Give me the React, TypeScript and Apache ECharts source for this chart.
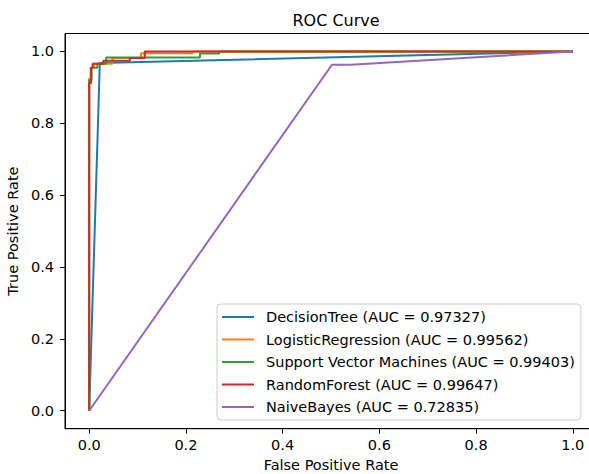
import React, { useEffect, useRef } from "react";
import * as echarts from "echarts";

const tickValues = [0, 0.2, 0.4, 0.6, 0.8, 1.0];

const seriesNames = [
  "DecisionTree (AUC = 0.97327)",
  "LogisticRegression (AUC = 0.99562)",
  "Support Vector Machines (AUC = 0.99403)",
  "RandomForest (AUC = 0.99647)",
  "NaiveBayes (AUC = 0.72835)",
];

const colors = ["#1f77b4", "#ff7f0e", "#2ca02c", "#d62728", "#9467bd"];

const decisionTree: number[][] = [
  [0, 0],
  [0.022, 0.968],
  [1, 1],
];

const logisticRegression: number[][] = [
  [0, 0],
  [0, 0.925],
  [0.003, 0.925],
  [0.003, 0.955],
  [0.01, 0.955],
  [0.01, 0.966],
  [0.048, 0.966],
  [0.048, 0.982],
  [0.107, 0.982],
  [0.107, 0.995],
  [0.214, 0.995],
  [0.214, 1],
  [1, 1],
];

const svm: number[][] = [
  [0, 0],
  [0, 0.92],
  [0.005, 0.92],
  [0.005, 0.955],
  [0.017, 0.955],
  [0.017, 0.966],
  [0.035, 0.966],
  [0.035, 0.983],
  [0.229, 0.983],
  [0.229, 0.994],
  [0.269, 0.994],
  [0.269, 1],
  [1, 1],
];

const randomForest: number[][] = [
  [0, 0],
  [0, 0.912],
  [0.004, 0.912],
  [0.004, 0.955],
  [0.007, 0.955],
  [0.007, 0.966],
  [0.029, 0.966],
  [0.029, 0.974],
  [0.084, 0.974],
  [0.084, 0.982],
  [0.115, 0.982],
  [0.115, 1],
  [1, 1],
];

const naiveBayes: number[][] = [
  [0, 0],
  [0.502, 0.963],
  [0.541, 0.963],
  [1, 1],
];

const allData = [decisionTree, logisticRegression, svm, randomForest, naiveBayes];

const FONT = "DejaVu Sans";

export default function App() {
  const ref = useRef<HTMLDivElement>(null);
  useEffect(() => {
    if (!ref.current) return;
    const chart = echarts.init(ref.current, undefined, { renderer: "svg" });
    const axisCommon = {
      type: "value" as const,
      min: -0.05,
      max: 1.05,
      nameLocation: "middle" as const,
      nameTextStyle: { fontFamily: FONT, fontSize: 14.5, color: "#000" },
      axisLine: { show: true, onZero: false, lineStyle: { color: "#000", width: 1 } },
      axisTick: {
        show: true,
        inside: false,
        length: 5,
        customValues: tickValues,
        lineStyle: { color: "#000", width: 1 },
      },
      axisLabel: {
        customValues: tickValues,
        fontFamily: FONT,
        fontSize: 14.5,
        color: "#000",
        formatter: (v: number) => v.toFixed(1),
      },
      splitLine: { show: false },
    };
    chart.setOption({
      animation: false,
      backgroundColor: "#fff",
      title: {
        text: "ROC Curve",
        left: 331,
        top: 7,
        textAlign: "center",
        textStyle: { fontFamily: FONT, fontSize: 16, fontWeight: "normal", color: "#000" },
      },
      grid: {
        left: 65,
        right: 23,
        top: 33.5,
        bottom: 45.3,
        outerBoundsMode: "none",
        containLabel: false,
        show: true,
        borderColor: "#000",
        borderWidth: 1,
        backgroundColor: "transparent",
      },
      xAxis: {
        ...axisCommon,
        name: "False Positive Rate",
        nameGap: 28,
        axisLabel: { ...axisCommon.axisLabel, margin: 9 },
      },
      yAxis: {
        ...axisCommon,
        name: "True Positive Rate",
        nameGap: 43,
        axisLabel: { ...axisCommon.axisLabel, margin: 11 },
      },
      legend: {
        orient: "vertical",
        left: 217,
        top: 304,
        padding: [5, 6, 5, 5],
        icon: "rect",
        itemWidth: 32,
        itemHeight: 2,
        itemGap: 6.5,
        backgroundColor: "rgba(255,255,255,0.8)",
        borderColor: "#cccccc",
        borderWidth: 1,
        borderRadius: 4,
        textStyle: {
          fontFamily: FONT,
          fontSize: 14.5,
          color: "#000",
          lineHeight: 16,
          padding: [0, 0, 0, 7],
        },
        data: seriesNames,
      },
      series: allData.map((d, i) => ({
        name: seriesNames[i],
        type: "line",
        data: d,
        symbol: "none",
        showSymbol: false,
        color: colors[i],
        itemStyle: { color: colors[i] },
        lineStyle: { color: colors[i], width: 2 },
        z: 2 + i,
      })),
    });
    return () => chart.dispose();
  }, []);
  return (
    <div
      style={{
        position: "absolute",
        left: 0,
        top: 0,
        width: 589,
        height: 474,
        overflow: "hidden",
      }}
    >
      <div ref={ref} style={{ width: 620, height: 474 }} />
    </div>
  );
}
